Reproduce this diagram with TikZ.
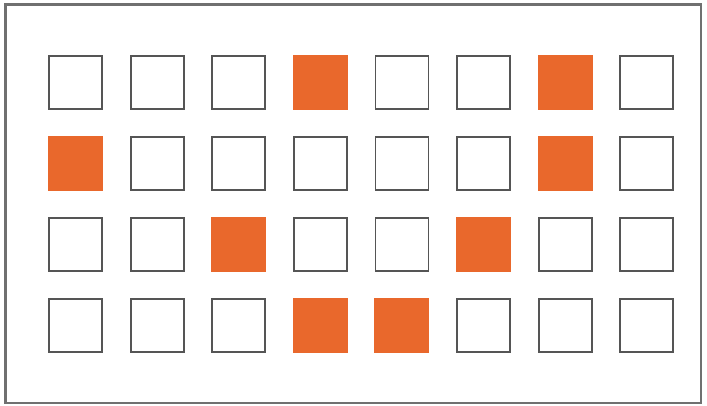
\documentclass[tikz,border=0pt]{standalone}
\usepackage{tikz}
\definecolor{hotorange}{RGB}{233,104,44}
\definecolor{boxgray}{RGB}{85,85,85}
\definecolor{framegray}{RGB}{112,112,112}

\begin{document}
\begin{tikzpicture}[x=1pt,y=-1pt,
  cell/.style={draw=boxgray, line width=1.8pt, fill=white, minimum size=53pt, inner sep=0pt},
  hot/.style={fill=hotorange, minimum size=55pt, inner sep=0pt}]
  \useasboundingbox (0,0) rectangle (707,405);
  % ---- outer frame ----
  \draw[line width=2.2pt, draw=framegray] (5.5,4.5) rectangle (701,403);
  % ---- grid of cells ----
  \foreach \r in {1,...,4} {
    \foreach \c in {1,...,8} {
      \node[cell] (c\r\c) at ({75.5+81.6*(\c-1)},{82.5+81*(\r-1)}) {};
    }
  }
  % ---- marked cells ----
  \foreach \r/\c in {1/4,1/7,2/1,2/7,3/3,3/6,4/4,4/5}
    \node[hot] (h\r\c) at (c\r\c) {};
\end{tikzpicture}
\end{document}
